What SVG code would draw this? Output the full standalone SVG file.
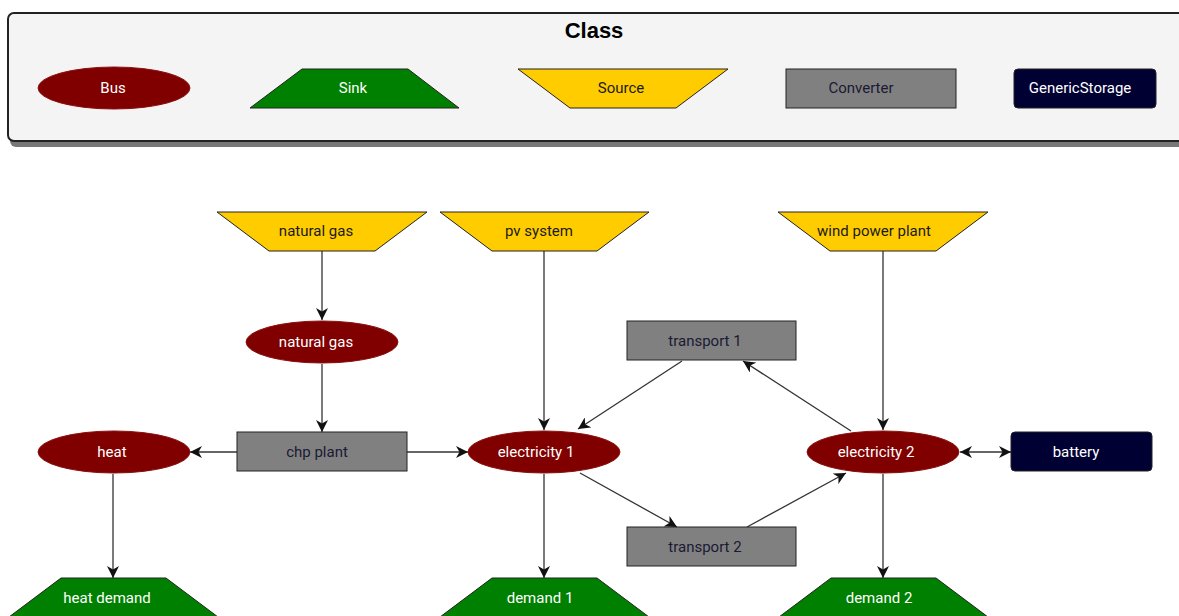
<svg xmlns="http://www.w3.org/2000/svg" width="1179" height="616" viewBox="0 0 1179 616">
<defs>
<style>
text{font-family:Roboto,"Liberation Sans",sans-serif;font-size:15px;text-anchor:middle;dominant-baseline:central}
.bus{fill:#800000;stroke:#8a1010;stroke-width:1}
.sink{fill:#008000;stroke:#222;stroke-width:1}
.src{fill:#ffcc00;stroke:#222;stroke-width:1}
.conv{fill:#808080;stroke:#222;stroke-width:1}
.sto{fill:#000033;stroke:#222;stroke-width:1}
.tw{fill:#ffffff}
.td{fill:#1a1a1a}
.tc{fill:#1a1a33}
.edge{stroke:#333;stroke-width:1.3;fill:none}
</style>
<marker id="arr" viewBox="0 0 12 12" refX="12" refY="6" markerWidth="12" markerHeight="12" markerUnits="userSpaceOnUse" orient="auto-start-reverse">
<path d="M0,0 L12,6 L0,12 L3.5,6 z" fill="#111"/>
</marker>
</defs>
<rect width="1179" height="616" fill="#ffffff"/>

<g id="legend">
<rect x="10" y="18" width="1190" height="129" rx="6" fill="#777"/>
<rect x="8" y="13" width="1190" height="128" rx="6" fill="#f4f4f4" stroke="#222" stroke-width="2"/>
<text x="594" y="30" style="font-size:22px;font-weight:bold;font-family:'Liberation Sans',Arial,sans-serif" fill="#000">Class</text>
<g id="legend-bus"><ellipse class="bus" cx="114" cy="88" rx="76" ry="21"/><text class="tw" x="113" y="88">Bus</text></g>
<g id="legend-sink"><polygon class="sink" points="302,69 408,69 459,108 250,108"/><text class="tw" x="353" y="88">Sink</text></g>
<g id="legend-source"><polygon class="src" points="518,69 728,69 676,108 570,108"/><text class="td" x="621" y="88">Source</text></g>
<g id="legend-converter"><rect class="conv" x="786" y="69" width="170" height="39"/><text class="tc" x="861" y="88">Converter</text></g>
<g id="legend-storage"><rect class="sto" x="1014" y="69" width="142" height="39" rx="4"/><text class="tw" x="1080" y="88">GenericStorage</text></g>
</g>

<g id="connectors">
<line class="edge" x1="322" y1="251" x2="322" y2="320" marker-end="url(#arr)"/>
<line class="edge" x1="322" y1="364" x2="322" y2="432" marker-end="url(#arr)"/>
<line class="edge" x1="237" y1="452" x2="190" y2="452" marker-end="url(#arr)"/>
<line class="edge" x1="407" y1="452" x2="468" y2="452" marker-end="url(#arr)"/>
<line class="edge" x1="113" y1="474" x2="113" y2="578" marker-end="url(#arr)"/>
<line class="edge" x1="544" y1="251" x2="544" y2="430" marker-end="url(#arr)"/>
<line class="edge" x1="544" y1="474" x2="544" y2="578" marker-end="url(#arr)"/>
<line class="edge" x1="682" y1="361" x2="578" y2="429" marker-end="url(#arr)"/>
<line class="edge" x1="580" y1="473" x2="677" y2="527" marker-end="url(#arr)"/>
<line class="edge" x1="747" y1="527" x2="846" y2="473" marker-end="url(#arr)"/>
<line class="edge" x1="851" y1="431" x2="743" y2="361" marker-end="url(#arr)"/>
<line class="edge" x1="883" y1="251" x2="883" y2="430" marker-end="url(#arr)"/>
<line class="edge" x1="883" y1="474" x2="883" y2="578" marker-end="url(#arr)"/>
<line class="edge" x1="960" y1="452" x2="1011" y2="452" marker-start="url(#arr)" marker-end="url(#arr)"/>
</g>

<g id="src-natural-gas"><polygon class="src" points="217,212 427,212 375,251 269,251"/><text class="td" x="316" y="231">natural gas</text></g>
<g id="src-pv-system"><polygon class="src" points="440,212 649,212 597,251 492,251"/><text class="td" x="539" y="231">pv system</text></g>
<g id="src-wind"><polygon class="src" points="778,212 988,212 936,251 830,251"/><text class="td" x="874" y="231">wind power plant</text></g>

<g id="bus-natural-gas"><ellipse class="bus" cx="322" cy="342" rx="76" ry="21"/><text class="tw" x="316" y="342">natural gas</text></g>
<g id="conv-chp"><rect class="conv" x="237" y="432" width="170" height="39"/><text class="tc" x="317" y="452">chp plant</text></g>
<g id="bus-heat"><ellipse class="bus" cx="114" cy="452" rx="76" ry="21"/><text class="tw" x="112" y="452">heat</text></g>
<g id="bus-el1"><ellipse class="bus" cx="544" cy="452" rx="76" ry="21"/><text class="tw" x="536" y="452">electricity 1</text></g>
<g id="bus-el2"><ellipse class="bus" cx="883" cy="452" rx="76" ry="21"/><text class="tw" x="876" y="452">electricity 2</text></g>
<g id="sto-battery"><rect class="sto" x="1011" y="432" width="141" height="39" rx="4"/><text class="tw" x="1076" y="452">battery</text></g>
<g id="conv-t1"><rect class="conv" x="627" y="321" width="169" height="39"/><text class="tc" x="705" y="341">transport 1</text></g>
<g id="conv-t2"><rect class="conv" x="627" y="527" width="169" height="39"/><text class="tc" x="705" y="547">transport 2</text></g>
<g id="sink-heat-demand"><polygon class="sink" points="61,578 166,578 218,617 9,617"/><text class="tw" x="107" y="598">heat demand</text></g>
<g id="sink-demand1"><polygon class="sink" points="492,578 597,578 649,617 440,617"/><text class="tw" x="540" y="598">demand 1</text></g>
<g id="sink-demand2"><polygon class="sink" points="831,578 936,578 988,617 779,617"/><text class="tw" x="879" y="598">demand 2</text></g>
</svg>
